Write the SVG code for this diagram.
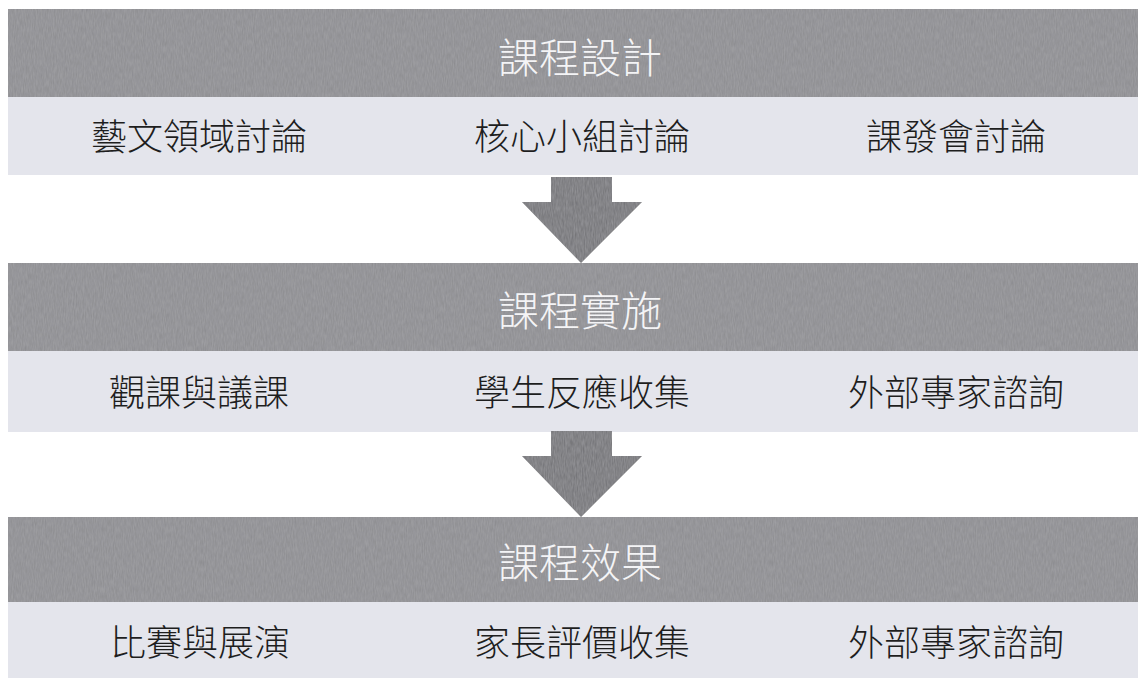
<svg xmlns="http://www.w3.org/2000/svg" width="1138" height="680" viewBox="0 0 1138 680">
  <defs>
    <filter id="grain" x="0" y="0" width="100%" height="100%">
      <feTurbulence type="fractalNoise" baseFrequency="0.9 0.15" numOctaves="2" seed="3" result="n"/>
      <feColorMatrix in="n" type="matrix" values="0 0 0 0 0.45  0 0 0 0 0.45  0 0 0 0 0.47  0 0 0 0.5 0" result="g"/>
      <feComposite in="g" in2="SourceGraphic" operator="in" result="gc"/>
      <feMerge><feMergeNode in="SourceGraphic"/><feMergeNode in="gc"/></feMerge>
    </filter>
    <style>
      .bar { fill: #8b8b8f; }
      .band { fill: #e4e5ec; }
      .arrow { fill: #707073; }
      .title { font-family: "Noto Sans CJK TC", "Noto Sans CJK SC", sans-serif; font-weight: 300; font-size: 41px; fill: #f4f4f6; text-anchor: middle; dominant-baseline: central; }
      .item { font-family: "Noto Sans CJK TC", "Noto Sans CJK SC", sans-serif; font-weight: 300; font-size: 36px; fill: #1e1e1e; text-anchor: middle; dominant-baseline: central; }
    </style>
  </defs>
  <rect width="1138" height="680" fill="#ffffff"/>

  <g id="stage-design">
    <rect class="bar" x="8" y="9" width="1130" height="88" filter="url(#grain)"/>
    <rect class="band" x="8" y="97" width="1130" height="78"/>
    <text class="title" x="580" y="55">課程設計</text>
    <text class="item" x="199" y="134">藝文領域討論</text>
    <text class="item" x="582" y="134">核心小組討論</text>
    <text class="item" x="956" y="134">課發會討論</text>
  </g>

  <g id="stage-implementation">
    <rect class="bar" x="8" y="263" width="1130" height="88" filter="url(#grain)"/>
    <rect class="band" x="8" y="351" width="1130" height="81"/>
    <text class="title" x="580" y="308">課程實施</text>
    <text class="item" x="199" y="390">觀課與議課</text>
    <text class="item" x="582" y="390">學生反應收集</text>
    <text class="item" x="956" y="390">外部專家諮詢</text>
  </g>

  <g id="stage-effect">
    <rect class="bar" x="8" y="517" width="1130" height="85" filter="url(#grain)"/>
    <rect class="band" x="8" y="602" width="1130" height="76"/>
    <text class="title" x="580" y="560">課程效果</text>
    <text class="item" x="200" y="640">比賽與展演</text>
    <text class="item" x="582" y="640">家長評價收集</text>
    <text class="item" x="956" y="640">外部專家諮詢</text>
  </g>

  <g id="connectors">
    <polygon class="arrow" points="551,177 612,177 612,202 642,202 581,263 522,202 551,202" filter="url(#grain)"/>
    <polygon class="arrow" points="551,431 612,431 612,456 642,456 581,517 522,456 551,456" filter="url(#grain)"/>
  </g>
</svg>
